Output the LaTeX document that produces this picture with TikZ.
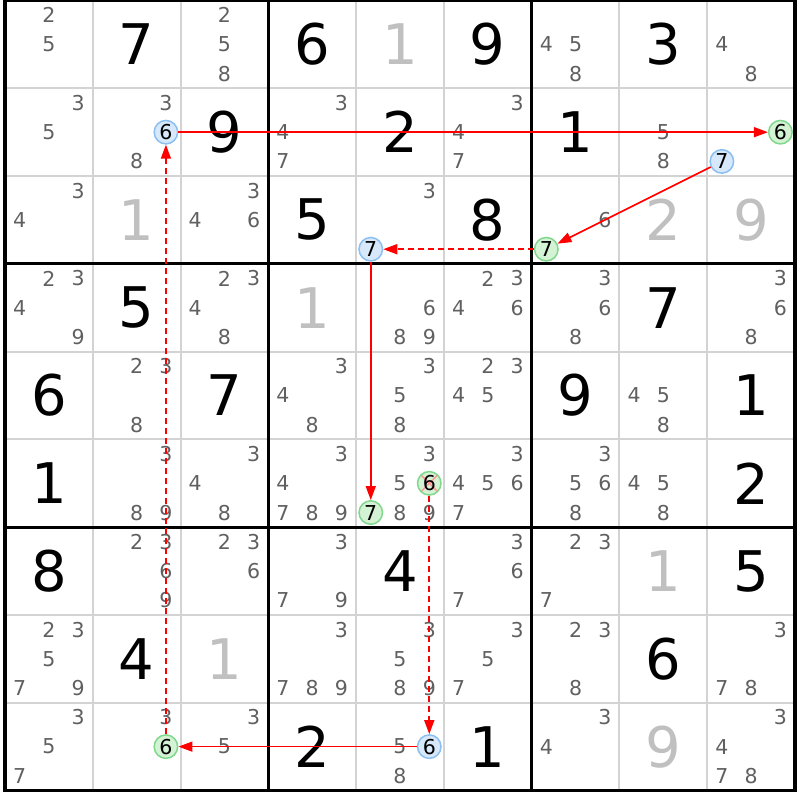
\documentclass[tikz,border=0pt]{standalone}
\usepackage{fontspec}
\setmainfont{DejaVu Sans}
\usetikzlibrary{arrows.meta}
\definecolor{candgray}{RGB}{96,96,96}
\definecolor{solvedgray}{RGB}{192,192,192}
\definecolor{gridgray}{RGB}{211,211,211}
\definecolor{bluefill}{RGB}{214,232,250}
\definecolor{blueline}{RGB}{140,192,240}
\definecolor{greenfill}{RGB}{212,242,212}
\definecolor{greenline}{RGB}{128,216,140}
\definecolor{linkred}{RGB}{255,0,0}
\begin{document}
\begin{tikzpicture}[x=29.26pt,y=-29.26pt,
    cand/.style={text=candgray,font=\fontsize{20.5}{20.5}\selectfont,inner sep=0pt},
    given/.style={text=black,font=\fontsize{56}{56}\selectfont,inner sep=0pt},
    solved/.style={given,text=solvedgray},
    bluecirc/.style={cand,text=black,circle,draw=blueline,fill=bluefill,line width=1.5pt,minimum size=23.5pt},
    greencirc/.style={bluecirc,draw=greenline,fill=greenfill},
    crossed/.style={path picture={\draw[draw=linkred!40,line width=1.5pt]
      (path picture bounding box.north west) -- (path picture bounding box.south east)
      (path picture bounding box.north east) -- (path picture bounding box.south west);}},
    stronglink/.style={linkred,line width=1.6pt,-{Triangle[length=14pt,width=10pt]}},
    weaklink/.style={stronglink,dash pattern=on 6pt off 4pt}]
      \useasboundingbox (-5pt,0.5pt) rectangle (795pt,-799.5pt);
      \draw[gridgray,line width=2pt,step=87.78pt] (0,0) grid (27,27);
      \draw[black,line width=3.3pt,step=263.34pt] (0,0) grid (27,27);
      \draw[black,line width=3.3pt] (0,0) rectangle (27,27);
      \path
        (4.5,1.5) node[given] (r1c2){7}
        (10.5,1.5) node[given] (r1c4){6}
        (13.5,1.5) node[solved] (r1c5){1}
        (16.5,1.5) node[given] (r1c6){9}
        (22.5,1.5) node[given] (r1c8){3}
        (7.5,4.5) node[given] (r2c3){9}
        (13.5,4.5) node[given] (r2c5){2}
        (19.5,4.5) node[given] (r2c7){1}
        (4.5,7.5) node[solved] (r3c2){1}
        (10.5,7.5) node[given] (r3c4){5}
        (16.5,7.5) node[given] (r3c6){8}
        (22.5,7.5) node[solved] (r3c8){2}
        (25.5,7.5) node[solved] (r3c9){9}
        (4.5,10.5) node[given] (r4c2){5}
        (10.5,10.5) node[solved] (r4c4){1}
        (22.5,10.5) node[given] (r4c8){7}
        (1.5,13.5) node[given] (r5c1){6}
        (7.5,13.5) node[given] (r5c3){7}
        (19.5,13.5) node[given] (r5c7){9}
        (25.5,13.5) node[given] (r5c9){1}
        (1.5,16.5) node[given] (r6c1){1}
        (25.5,16.5) node[given] (r6c9){2}
        (1.5,19.5) node[given] (r7c1){8}
        (13.5,19.5) node[given] (r7c5){4}
        (22.5,19.5) node[solved] (r7c8){1}
        (25.5,19.5) node[given] (r7c9){5}
        (4.5,22.5) node[given] (r8c2){4}
        (7.5,22.5) node[solved] (r8c3){1}
        (22.5,22.5) node[given] (r8c8){6}
        (10.5,25.5) node[given] (r9c4){2}
        (16.5,25.5) node[given] (r9c6){1}
        (22.5,25.5) node[solved] (r9c8){9};
      \path
        (1.5,0.5) node[cand] (r1c1n2){2}
        (1.5,1.5) node[cand] (r1c1n5){5}
        (7.5,0.5) node[cand] (r1c3n2){2}
        (7.5,1.5) node[cand] (r1c3n5){5}
        (7.5,2.5) node[cand] (r1c3n8){8}
        (18.5,1.5) node[cand] (r1c7n4){4}
        (19.5,1.5) node[cand] (r1c7n5){5}
        (19.5,2.5) node[cand] (r1c7n8){8}
        (24.5,1.5) node[cand] (r1c9n4){4}
        (25.5,2.5) node[cand] (r1c9n8){8};
      \path
        (2.5,3.5) node[cand] (r2c1n3){3}
        (1.5,4.5) node[cand] (r2c1n5){5}
        (5.5,3.5) node[cand] (r2c2n3){3}
        (5.5,4.5) node[bluecirc] (r2c2n6){6}
        (4.5,5.5) node[cand] (r2c2n8){8}
        (11.5,3.5) node[cand] (r2c4n3){3}
        (9.5,4.5) node[cand] (r2c4n4){4}
        (9.5,5.5) node[cand] (r2c4n7){7}
        (17.5,3.5) node[cand] (r2c6n3){3}
        (15.5,4.5) node[cand] (r2c6n4){4}
        (15.5,5.5) node[cand] (r2c6n7){7}
        (22.5,4.5) node[cand] (r2c8n5){5}
        (22.5,5.5) node[cand] (r2c8n8){8}
        (26.5,4.5) node[greencirc] (r2c9n6){6}
        (24.5,5.5) node[bluecirc] (r2c9n7){7};
      \path
        (2.5,6.5) node[cand] (r3c1n3){3}
        (0.5,7.5) node[cand] (r3c1n4){4}
        (8.5,6.5) node[cand] (r3c3n3){3}
        (6.5,7.5) node[cand] (r3c3n4){4}
        (8.5,7.5) node[cand] (r3c3n6){6}
        (14.5,6.5) node[cand] (r3c5n3){3}
        (12.5,8.5) node[bluecirc] (r3c5n7){7}
        (20.5,7.5) node[cand] (r3c7n6){6}
        (18.5,8.5) node[greencirc] (r3c7n7){7};
      \path
        (1.5,9.5) node[cand] (r4c1n2){2}
        (2.5,9.5) node[cand] (r4c1n3){3}
        (0.5,10.5) node[cand] (r4c1n4){4}
        (2.5,11.5) node[cand] (r4c1n9){9}
        (7.5,9.5) node[cand] (r4c3n2){2}
        (8.5,9.5) node[cand] (r4c3n3){3}
        (6.5,10.5) node[cand] (r4c3n4){4}
        (7.5,11.5) node[cand] (r4c3n8){8}
        (14.5,10.5) node[cand] (r4c5n6){6}
        (13.5,11.5) node[cand] (r4c5n8){8}
        (14.5,11.5) node[cand] (r4c5n9){9}
        (16.5,9.5) node[cand] (r4c6n2){2}
        (17.5,9.5) node[cand] (r4c6n3){3}
        (15.5,10.5) node[cand] (r4c6n4){4}
        (17.5,10.5) node[cand] (r4c6n6){6}
        (20.5,9.5) node[cand] (r4c7n3){3}
        (20.5,10.5) node[cand] (r4c7n6){6}
        (19.5,11.5) node[cand] (r4c7n8){8}
        (26.5,9.5) node[cand] (r4c9n3){3}
        (26.5,10.5) node[cand] (r4c9n6){6}
        (25.5,11.5) node[cand] (r4c9n8){8};
      \path
        (4.5,12.5) node[cand] (r5c2n2){2}
        (5.5,12.5) node[cand] (r5c2n3){3}
        (4.5,14.5) node[cand] (r5c2n8){8}
        (11.5,12.5) node[cand] (r5c4n3){3}
        (9.5,13.5) node[cand] (r5c4n4){4}
        (10.5,14.5) node[cand] (r5c4n8){8}
        (14.5,12.5) node[cand] (r5c5n3){3}
        (13.5,13.5) node[cand] (r5c5n5){5}
        (13.5,14.5) node[cand] (r5c5n8){8}
        (16.5,12.5) node[cand] (r5c6n2){2}
        (17.5,12.5) node[cand] (r5c6n3){3}
        (15.5,13.5) node[cand] (r5c6n4){4}
        (16.5,13.5) node[cand] (r5c6n5){5}
        (21.5,13.5) node[cand] (r5c8n4){4}
        (22.5,13.5) node[cand] (r5c8n5){5}
        (22.5,14.5) node[cand] (r5c8n8){8};
      \path
        (5.5,15.5) node[cand] (r6c2n3){3}
        (4.5,17.5) node[cand] (r6c2n8){8}
        (5.5,17.5) node[cand] (r6c2n9){9}
        (8.5,15.5) node[cand] (r6c3n3){3}
        (6.5,16.5) node[cand] (r6c3n4){4}
        (7.5,17.5) node[cand] (r6c3n8){8}
        (11.5,15.5) node[cand] (r6c4n3){3}
        (9.5,16.5) node[cand] (r6c4n4){4}
        (9.5,17.5) node[cand] (r6c4n7){7}
        (10.5,17.5) node[cand] (r6c4n8){8}
        (11.5,17.5) node[cand] (r6c4n9){9}
        (14.5,15.5) node[cand] (r6c5n3){3}
        (13.5,16.5) node[cand] (r6c5n5){5}
        (14.5,16.5) node[greencirc,crossed] (r6c5n6){6}
        (12.5,17.5) node[greencirc] (r6c5n7){7}
        (13.5,17.5) node[cand] (r6c5n8){8}
        (14.5,17.5) node[cand] (r6c5n9){9}
        (17.5,15.5) node[cand] (r6c6n3){3}
        (15.5,16.5) node[cand] (r6c6n4){4}
        (16.5,16.5) node[cand] (r6c6n5){5}
        (17.5,16.5) node[cand] (r6c6n6){6}
        (15.5,17.5) node[cand] (r6c6n7){7}
        (20.5,15.5) node[cand] (r6c7n3){3}
        (19.5,16.5) node[cand] (r6c7n5){5}
        (20.5,16.5) node[cand] (r6c7n6){6}
        (19.5,17.5) node[cand] (r6c7n8){8}
        (21.5,16.5) node[cand] (r6c8n4){4}
        (22.5,16.5) node[cand] (r6c8n5){5}
        (22.5,17.5) node[cand] (r6c8n8){8};
      \path
        (4.5,18.5) node[cand] (r7c2n2){2}
        (5.5,18.5) node[cand] (r7c2n3){3}
        (5.5,19.5) node[cand] (r7c2n6){6}
        (5.5,20.5) node[cand] (r7c2n9){9}
        (7.5,18.5) node[cand] (r7c3n2){2}
        (8.5,18.5) node[cand] (r7c3n3){3}
        (8.5,19.5) node[cand] (r7c3n6){6}
        (11.5,18.5) node[cand] (r7c4n3){3}
        (9.5,20.5) node[cand] (r7c4n7){7}
        (11.5,20.5) node[cand] (r7c4n9){9}
        (17.5,18.5) node[cand] (r7c6n3){3}
        (17.5,19.5) node[cand] (r7c6n6){6}
        (15.5,20.5) node[cand] (r7c6n7){7}
        (19.5,18.5) node[cand] (r7c7n2){2}
        (20.5,18.5) node[cand] (r7c7n3){3}
        (18.5,20.5) node[cand] (r7c7n7){7};
      \path
        (1.5,21.5) node[cand] (r8c1n2){2}
        (2.5,21.5) node[cand] (r8c1n3){3}
        (1.5,22.5) node[cand] (r8c1n5){5}
        (0.5,23.5) node[cand] (r8c1n7){7}
        (2.5,23.5) node[cand] (r8c1n9){9}
        (11.5,21.5) node[cand] (r8c4n3){3}
        (9.5,23.5) node[cand] (r8c4n7){7}
        (10.5,23.5) node[cand] (r8c4n8){8}
        (11.5,23.5) node[cand] (r8c4n9){9}
        (14.5,21.5) node[cand] (r8c5n3){3}
        (13.5,22.5) node[cand] (r8c5n5){5}
        (13.5,23.5) node[cand] (r8c5n8){8}
        (14.5,23.5) node[cand] (r8c5n9){9}
        (17.5,21.5) node[cand] (r8c6n3){3}
        (16.5,22.5) node[cand] (r8c6n5){5}
        (15.5,23.5) node[cand] (r8c6n7){7}
        (19.5,21.5) node[cand] (r8c7n2){2}
        (20.5,21.5) node[cand] (r8c7n3){3}
        (19.5,23.5) node[cand] (r8c7n8){8}
        (26.5,21.5) node[cand] (r8c9n3){3}
        (24.5,23.5) node[cand] (r8c9n7){7}
        (25.5,23.5) node[cand] (r8c9n8){8};
      \path
        (2.5,24.5) node[cand] (r9c1n3){3}
        (1.5,25.5) node[cand] (r9c1n5){5}
        (0.5,26.5) node[cand] (r9c1n7){7}
        (5.5,24.5) node[cand] (r9c2n3){3}
        (5.5,25.5) node[greencirc] (r9c2n6){6}
        (8.5,24.5) node[cand] (r9c3n3){3}
        (7.5,25.5) node[cand] (r9c3n5){5}
        (13.5,25.5) node[cand] (r9c5n5){5}
        (14.5,25.5) node[bluecirc] (r9c5n6){6}
        (13.5,26.5) node[cand] (r9c5n8){8}
        (20.5,24.5) node[cand] (r9c7n3){3}
        (18.5,25.5) node[cand] (r9c7n4){4}
        (26.5,24.5) node[cand] (r9c9n3){3}
        (24.5,25.5) node[cand] (r9c9n4){4}
        (24.5,26.5) node[cand] (r9c9n7){7}
        (25.5,26.5) node[cand] (r9c9n8){8};
      \draw[stronglink] (r2c2n6) -- (r2c9n6);
      \draw[stronglink] (r2c9n7) -- (r3c7n7);
      \draw[stronglink] (r3c5n7) -- (r6c5n7);
      \draw[stronglink] (r9c5n6) -- (r9c2n6);
      \draw[weaklink] (r3c7n7) -- (r3c5n7);
      \draw[weaklink] (r6c5n6) -- (r9c5n6);
      \draw[weaklink] (r9c2n6) -- (r2c2n6);
    \end{tikzpicture}
\end{document}
